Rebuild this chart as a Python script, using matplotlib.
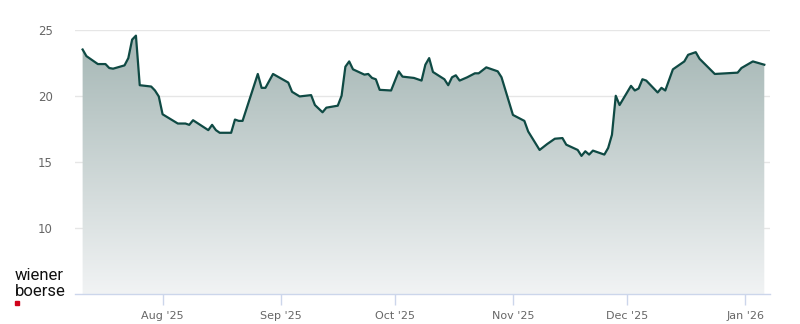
import numpy as np
import pandas as pd
import matplotlib
matplotlib.use("Agg")
import matplotlib.pyplot as plt
import matplotlib.dates as mdates
from matplotlib.colors import LinearSegmentedColormap

# price history
dates = [
    "2025-07-11", "2025-07-12", "2025-07-15", "2025-07-17", "2025-07-18", "2025-07-19",
    "2025-07-22", "2025-07-23", "2025-07-24", "2025-07-25", "2025-07-26", "2025-07-29",
    "2025-07-30", "2025-07-31", "2025-08-01", "2025-08-05", "2025-08-07", "2025-08-08",
    "2025-08-09", "2025-08-13", "2025-08-14", "2025-08-15", "2025-08-16", "2025-08-19",
    "2025-08-20", "2025-08-21", "2025-08-22", "2025-08-26", "2025-08-27", "2025-08-28",
    "2025-08-30", "2025-09-03", "2025-09-04", "2025-09-06", "2025-09-09", "2025-09-10",
    "2025-09-12", "2025-09-13", "2025-09-16", "2025-09-17", "2025-09-18", "2025-09-19",
    "2025-09-20", "2025-09-23", "2025-09-24", "2025-09-25", "2025-09-26", "2025-09-27",
    "2025-09-30", "2025-10-02", "2025-10-03", "2025-10-06", "2025-10-08", "2025-10-09",
    "2025-10-10", "2025-10-11", "2025-10-14", "2025-10-15", "2025-10-16", "2025-10-17",
    "2025-10-18", "2025-10-20", "2025-10-22", "2025-10-23", "2025-10-25", "2025-10-28",
    "2025-10-29", "2025-11-01", "2025-11-04", "2025-11-05", "2025-11-08", "2025-11-10",
    "2025-11-12", "2025-11-14", "2025-11-15", "2025-11-18", "2025-11-19", "2025-11-20",
    "2025-11-21", "2025-11-22", "2025-11-25", "2025-11-26", "2025-11-27", "2025-11-28",
    "2025-11-29", "2025-12-02", "2025-12-03", "2025-12-04", "2025-12-05", "2025-12-06",
    "2025-12-09", "2025-12-10", "2025-12-11", "2025-12-13", "2025-12-16", "2025-12-17",
    "2025-12-19", "2025-12-20", "2025-12-24", "2025-12-30", "2025-12-31", "2026-01-03",
    "2026-01-06",
]
prices = [
    23.5, 23.0, 22.4, 22.4, 22.1, 22.05,
    22.3, 22.85, 24.25, 24.55, 20.8, 20.7,
    20.4, 19.95, 18.6, 17.9, 17.9, 17.8,
    18.15, 17.4, 17.8, 17.4, 17.2, 17.2,
    18.2, 18.1, 18.1, 21.65, 20.6, 20.6,
    21.65, 21.0, 20.3, 19.95, 20.05, 19.3,
    18.75, 19.1, 19.25, 20.0, 22.2, 22.6,
    22.0, 21.6, 21.65, 21.35, 21.25, 20.45,
    20.4, 21.85, 21.45, 21.35, 21.15, 22.35,
    22.85, 21.8, 21.25, 20.8, 21.4, 21.55,
    21.15, 21.4, 21.7, 21.7, 22.15, 21.85,
    21.4, 18.55, 18.1, 17.3, 15.9, 16.35,
    16.75, 16.8, 16.3, 15.9, 15.45, 15.8,
    15.55, 15.85, 15.55, 16.05, 17.05, 20.0,
    19.3, 20.75, 20.4, 20.55, 21.25, 21.15,
    20.25, 20.6, 20.4, 22.0, 22.6, 23.1,
    23.3, 22.8, 21.65, 21.75, 22.1, 22.6,
    22.35,
]
y_ticks = [10, 15, 20, 25]
x_tick_dates = ["2025-08-01", "2025-09-01", "2025-10-01", "2025-11-01", "2025-12-01", "2026-01-01"]
x_tick_labels = ["Aug '25", "Sep '25", "Oct '25", "Nov '25", "Dec '25", "Jan '26"]

x = mdates.date2num(pd.to_datetime(dates))
y = np.array(prices)
ymin, ymax = 5, 25
xmin = mdates.date2num(pd.Timestamp("2025-07-09"))
xmax = mdates.date2num(pd.Timestamp("2026-01-07 12:00"))

fig = plt.figure(figsize=(8, 3.24), dpi=100)
ax = fig.add_axes([75 / 800, 30 / 324, 695 / 800, 264.3 / 324])

# gradient fill under the line (dark at the top, almost white at the bottom)
cmap = LinearSegmentedColormap.from_list("wb", ["#a3b5b3", "#f1f3f4"])
grad = np.linspace(0, 1, 256).reshape(-1, 1)
img = ax.imshow(grad, extent=[xmin, xmax, ymin, ymax], aspect="auto",
                cmap=cmap, origin="upper", zorder=1)
poly = ax.fill_between(x, y, ymin, color="none", lw=0)
clip = poly.get_paths()[0]
img.set_clip_path(clip, transform=ax.transData)

ax.plot(x, y, color="#0f4a44", lw=1.6, zorder=3, solid_joinstyle="round")

ax.set_xlim(xmin, xmax)
ax.set_ylim(ymin, ymax)

ax.set_yticks(y_ticks)
ax.set_yticklabels([str(v) for v in y_ticks])
ax.yaxis.grid(True, color="#e6e6e6", lw=1)
ax.set_axisbelow(True)
ax.tick_params(axis="y", length=0, pad=16, labelsize=8.5, labelcolor="#666666")

ax.set_xticks(mdates.date2num(pd.to_datetime(x_tick_dates)))
ax.set_xticklabels(x_tick_labels)
ax.tick_params(axis="x", length=8, width=1, color="#ccd6eb", pad=4,
               labelsize=8, labelcolor="#666666")

for s in ["top", "right", "left"]:
    ax.spines[s].set_visible(False)
ax.spines["bottom"].set_color("#ccd6eb")
ax.spines["bottom"].set_linewidth(1)

# logo
fig.text(15 / 800, 1 - 276 / 324, "wiener", fontsize=12, color="#111111",
         va="center", ha="left", family="Roboto")
fig.text(15 / 800, 1 - 292 / 324, "boerse", fontsize=12, color="#111111",
         va="center", ha="left", family="Roboto")
fig.patches.append(plt.Rectangle((15 / 800, 1 - 305 / 324), 4 / 800, 4 / 324,
                                 transform=fig.transFigure, color="#d0021b"))

fig.savefig("out.png", dpi=100)
